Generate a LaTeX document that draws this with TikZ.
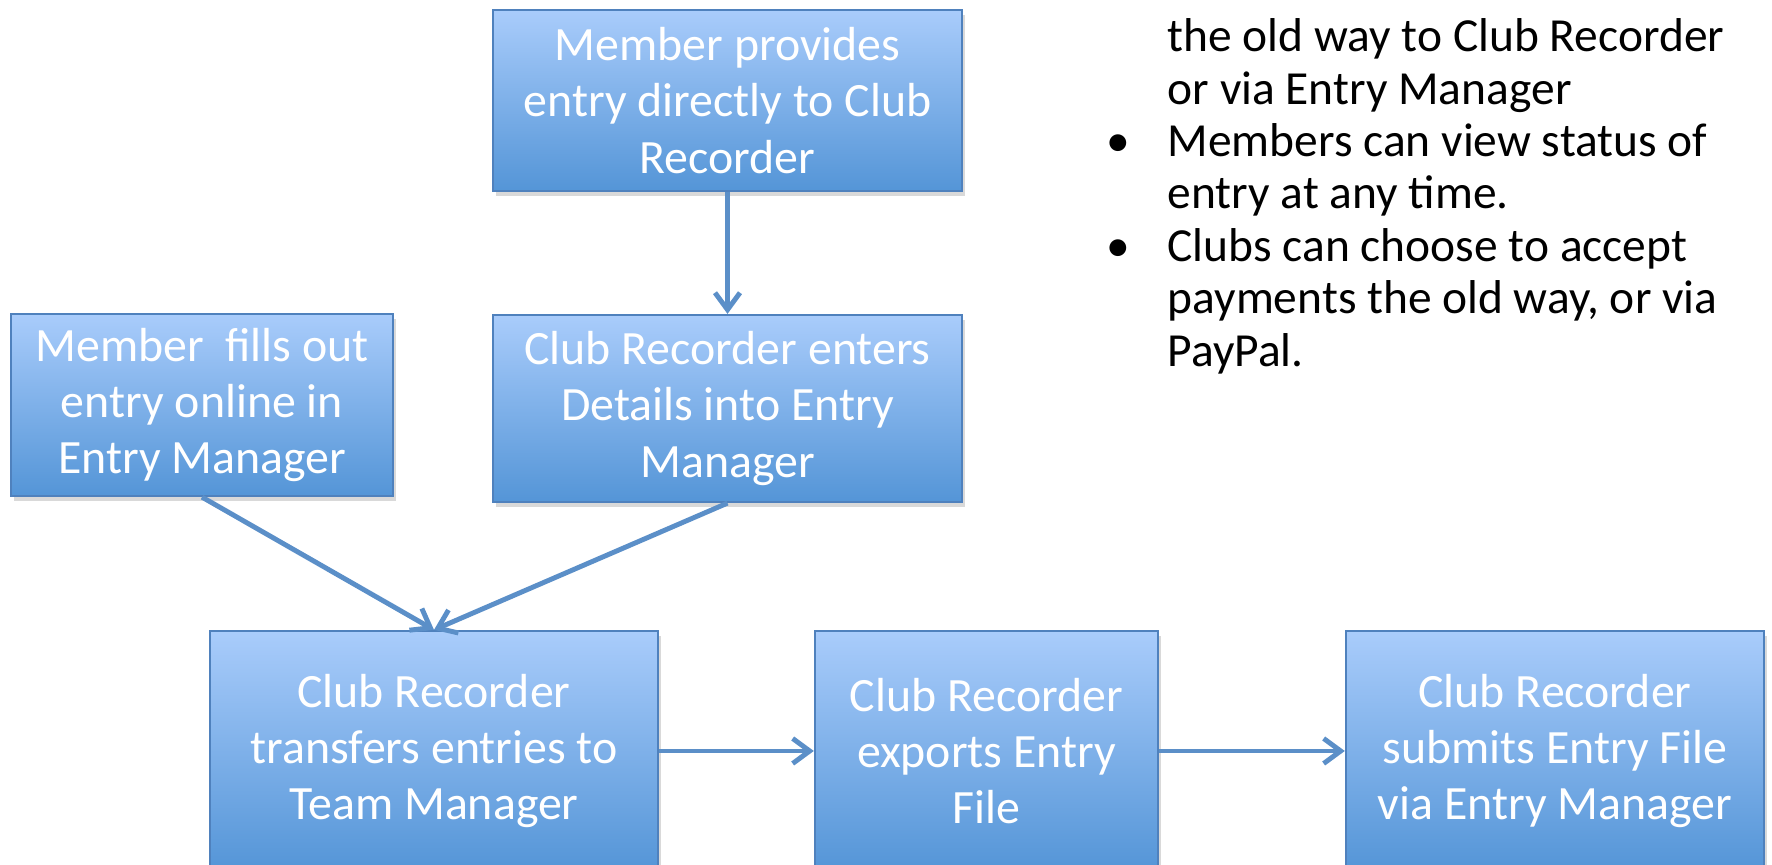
\documentclass[tikz,border=0pt]{standalone}
\usepackage{fontspec}
\setmainfont{Carlito}
\usetikzlibrary{positioning}
\usetikzlibrary{shadows}
\usetikzlibrary{arrows.meta}
\definecolor{boxtop}{HTML}{A9CCFB}
\definecolor{boxbot}{HTML}{5495D7}
\definecolor{boxline}{HTML}{4F81BD}
\definecolor{flow}{HTML}{5B8FC8}
\newcommand{\bul}{\llap{\makebox[0.61cm][l]{\textbullet}}}

\begin{document}
\begin{tikzpicture}[x=0.01cm, y=-0.01cm,
		stepbox/.style={draw=boxline, line width=0.6pt,
			top color=boxtop, bottom color=boxbot,
			text=white, align=center, inner sep=0pt,
			font=\fontsize{13.6}{16}\selectfont,
			drop shadow={shadow xshift=0.03cm, shadow yshift=-0.05cm, opacity=0.3}},
		notetext/.style={align=left, inner sep=0pt, text=black,
			font=\fontsize{13.5}{14.9}\selectfont},
		>={Straight Barb[length=1.7mm, width=2.5mm]},
		flowarrow/.style={draw=flow, line width=1.4pt, ->}
	]
	
	\useasboundingbox (0,0) rectangle (1772,865);
	
	%entry sources
	\node[stepbox, minimum width=4.69cm, minimum height=1.81cm] (mprov) at (727.5,100.5) {Member provides\\entry directly to Club\\Recorder};
	\node[stepbox, minimum width=3.82cm, minimum height=1.82cm] (mfill) at (202,405) {Member\ \ fills out\\entry online in\\Entry Manager};
	\node[stepbox, minimum width=4.69cm, minimum height=1.87cm] (cent) at (727.5,408.5) {Club Recorder enters\\Details into Entry\\Manager};
	
	%club recorder steps
	\node[stepbox, minimum width=4.48cm, minimum height=2.40cm] (ctrans) at (434,751) {Club Recorder\\transfers entries to\\Team Manager};
	\node[stepbox, minimum width=3.43cm, minimum height=2.40cm] (cexp) at (986.5,751) {Club Recorder\\exports Entry\\File};
	\node[stepbox, minimum width=4.18cm, minimum height=2.40cm] (csub) at (1555,751) {Club Recorder\\submits Entry File\\via Entry Manager};
	
	%notes
	\node[notetext, anchor=north west] (notes) at (1167,18) {the old way to Club Recorder\\or via Entry Manager\\\bul Members can view status of\\entry at any time.\\\bul Clubs can choose to accept\\payments the old way, or via\\PayPal.};
	
	%arrows
	\draw[flowarrow] (mprov.south) -- (cent.north);
	\draw[flowarrow] (mfill.south) -- (ctrans.north);
	\draw[flowarrow] (cent.south) -- (ctrans.north);
	\draw[flowarrow] (ctrans.east) -- (cexp.west);
	\draw[flowarrow] (cexp.east) -- (csub.west);
\end{tikzpicture}
\end{document}
